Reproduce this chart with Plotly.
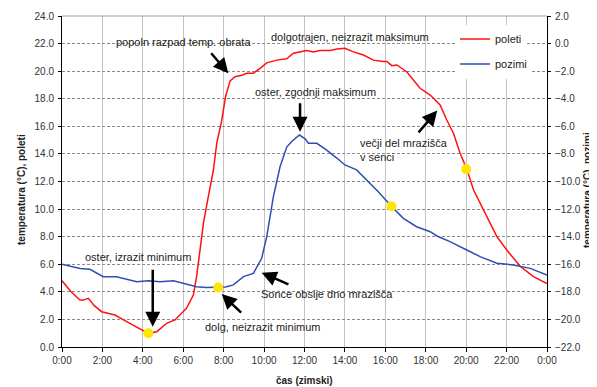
import plotly.graph_objects as go

# ---- data ----
hours_poleti = [0, 0.45, 0.89, 1.06, 1.3, 1.6, 1.96, 2.62, 3.2, 3.86, 4.27, 4.69, 5.18, 5.59, 6.16, 6.5,
                6.66, 6.83, 7.0, 7.24, 7.49, 7.66, 7.9, 8.1, 8.32, 8.56, 8.9, 9.14, 9.47, 9.8, 10.13,
                10.63, 11.12, 11.45, 11.78, 12.11, 12.44, 12.77, 13.27, 13.6, 14.0, 14.42, 14.92, 15.41,
                15.9, 16.07, 16.32, 16.57, 17.06, 17.39, 17.72, 18.22, 18.71, 19.04, 19.37, 19.7, 20.03,
                20.36, 20.86, 21.52, 22.01, 22.67, 23.33, 24.0]
temp_poleti = [4.8, 4.0, 3.41, 3.4, 3.53, 3.0, 2.56, 2.32, 1.84, 1.28, 0.99, 1.11, 1.72, 1.96, 2.8, 3.77,
               5.1, 7.03, 9.0, 10.9, 12.8, 14.8, 16.4, 18.2, 19.3, 19.6, 19.7, 19.85, 19.85, 20.2, 20.6,
               20.8, 20.9, 21.3, 21.4, 21.5, 21.4, 21.5, 21.5, 21.6, 21.66, 21.4, 21.17, 20.8,
               20.7, 20.7, 20.4, 20.45, 19.96, 19.36, 18.76, 18.27, 17.55, 16.46, 15.5, 14.05, 12.9,
               11.4, 9.93, 8.0, 7.03, 5.85, 5.1, 4.6]

hours_pozimi = [0, 0.89, 1.38, 2.04, 2.7, 3.2, 3.7, 4.27, 4.85, 5.51, 6.17, 6.66, 7.15, 7.73, 8.1, 8.48,
                8.98, 9.47, 9.88, 10.13, 10.46, 10.79, 11.12, 11.37, 11.75, 12.03, 12.2, 12.61, 13.1,
                13.6, 14.0, 14.58, 15.08, 15.65, 16.3, 16.89, 17.55, 18.22, 18.55, 19.2, 20.03, 20.69,
                21.52, 22.34, 23.17, 24.0]
temp_pozimi = [-16.0, -16.3, -16.37, -16.9, -16.9, -17.1, -17.26, -17.2, -17.26, -17.2, -17.43, -17.63,
               -17.68, -17.68, -17.65, -17.5, -16.9, -16.66, -15.57, -14.0, -11.1, -8.93, -7.5, -7.1,
               -6.63, -6.9, -7.23, -7.23, -7.72, -8.3, -8.8, -9.16, -9.9, -10.74, -11.8, -12.67,
               -13.28, -13.64, -13.95, -14.36, -14.97, -15.45, -15.93, -16.05, -16.3, -16.78]

marker_hours_poleti = [4.27, 20.0]
marker_temp_poleti = [1.0, 12.9]
marker_hours_pozimi = [7.73, 16.3]
marker_temp_pozimi = [-17.68, -11.8]

x_tickvals = list(range(0, 25, 2))
x_ticktext = ["0:00", "2:00", "4:00", "6:00", "8:00", "10:00", "12:00", "14:00",
              "16:00", "18:00", "20:00", "22:00", "0:00"]

FONT = "Liberation Sans, Arial, sans-serif"
RED = "#FF1010"
BLUE = "#2E4FB0"
YELLOW = "#FFE600"

fig = go.Figure()
fig.add_trace(go.Scatter(x=hours_poleti, y=temp_poleti, mode="lines", name="poleti",
                         line=dict(color=RED, width=1.5), legend="legend"))
fig.add_trace(go.Scatter(x=hours_pozimi, y=temp_pozimi, mode="lines", name="pozimi",
                         line=dict(color=BLUE, width=1.5), yaxis="y2", legend="legend2"))
fig.add_trace(go.Scatter(x=marker_hours_poleti, y=marker_temp_poleti, mode="markers",
                         marker=dict(color=YELLOW, size=10), showlegend=False))
fig.add_trace(go.Scatter(x=marker_hours_pozimi, y=marker_temp_pozimi, mode="markers",
                         marker=dict(color=YELLOW, size=10), yaxis="y2", showlegend=False))

# plot area in page pixels (page body has an 8px margin)
PL, PR, PT, PB = 62, 547, 16, 347


def px_x(p):
    return (p - PL) / (PR - PL)


def px_y(p):
    return (PB - p) / (PB - PT)


# annotations: (text, x, y) in data coords of left axis
texts = [
    ("popoln razpad temp. obrata", 5.99, 22.14),
    ("dolgotrajen, neizrazit maksimum", 14.25, 22.5),
    ("oster, zgodnji maksimum", 12.52, 18.51),
    ("oster, izrazit minimum", 3.78, 6.55),
    ("dolg, neizrazit minimum", 9.96, 1.43),
    ("Sonce obsije dno mrazišča", 13.1, 3.84),
]
annotations = []
for t, x, y in texts:
    annotations.append(dict(text=t, x=x, y=y, xref="x", yref="y", showarrow=False,
                            xanchor="center", yanchor="middle",
                            font=dict(family=FONT, size=11, color="#222222")))
annotations.append(dict(text="večji del mrazišča<br>v senci", x=14.66, y=14.31, xref="x", yref="y",
                        showarrow=False, xanchor="left", yanchor="middle", align="left",
                        font=dict(family=FONT, size=11, color="#222222")))
# axis titles
annotations.append(dict(text="<b>temperatura (°C), poleti</b>", x=px_x(21), y=px_y(190),
                        xref="paper", yref="paper", showarrow=False, textangle=-90,
                        xanchor="center", yanchor="middle",
                        font=dict(family=FONT, size=10, color="#222222")))
annotations.append(dict(text="<b>temperatura (°C), pozimi</b>", x=px_x(587), y=px_y(190),
                        xref="paper", yref="paper", showarrow=False, textangle=-90,
                        xanchor="center", yanchor="middle",
                        font=dict(family=FONT, size=10, color="#222222")))
annotations.append(dict(text="<b>čas (zimski)</b>", x=0.5, y=px_y(380),
                        xref="paper", yref="paper", showarrow=False,
                        xanchor="center", yanchor="middle",
                        font=dict(family=FONT, size=10, color="#222222")))

# arrows: head (x,y), tail (ax, ay)
arrows = [
    (8.23, 19.85, 7.32, 21.41),
    (11.78, 15.61, 11.78, 17.79),
    (18.57, 17.14, 17.58, 15.45),
    (4.49, 1.47, 4.49, 5.71),
    (7.9, 3.84, 8.94, 2.39),
    (9.88, 5.39, 11.28, 4.5),
]
for x, y, ax, ay in arrows:
    annotations.append(dict(text="", x=x, y=y, ax=ax, ay=ay, xref="x", yref="y",
                            axref="x", ayref="y", showarrow=True, arrowhead=2,
                            arrowsize=1.2, arrowwidth=2.5, arrowcolor="black", standoff=0,
                            startstandoff=0))

BODY = 8
W, H = 597 - BODY, 387 - BODY
fig.update_layout(
    width=W, height=H,
    margin=dict(l=PL - BODY, r=W + BODY - PR, t=PT - BODY, b=H + BODY - PB),
    paper_bgcolor="white", plot_bgcolor="white",
    font=dict(family=FONT, size=10, color="#222222"),
    annotations=annotations,
    xaxis=dict(range=[0, 24], tickvals=x_tickvals, ticktext=x_ticktext, automargin=False,
               showgrid=True, gridcolor="#c4c4c4", gridwidth=1,
               showline=True, linecolor="black", linewidth=1,
               ticks="outside", ticklen=4, tickcolor="black", zeroline=False,
               tickfont=dict(size=10, color="#333333")),
    yaxis=dict(range=[0, 24], dtick=2, tickformat=".1f", automargin=False,
               showgrid=True, gridcolor="#8a8a8a", gridwidth=1, griddash="3px,2px",
               showline=True, linecolor="black", linewidth=1,
               ticks="outside", ticklen=3, tickcolor="black", zeroline=False,
               ticklabelstandoff=2,
               tickfont=dict(size=10, color="#333333")),
    yaxis2=dict(range=[-22, 2], dtick=2, tickformat=".1f", overlaying="y", side="right",
                automargin=False,
                showgrid=False, showline=True, linecolor="black", linewidth=1,
                ticks="outside", ticklen=3, tickcolor="black", zeroline=False,
                ticklabelstandoff=2,
                tickfont=dict(size=10, color="#333333")),
    legend=dict(x=px_x(455), y=px_y(39), xanchor="left", yanchor="middle",
                bgcolor="white", borderwidth=0, font=dict(size=11, color="#222222")),
    legend2=dict(x=px_x(455), y=px_y(64), xanchor="left", yanchor="middle",
                 bgcolor="white", borderwidth=0, font=dict(size=11, color="#222222")),
    shapes=[dict(type="line", xref="paper", yref="paper", x0=0, x1=1, y0=1, y1=1,
                 line=dict(color="#a0a0a0", width=1))],
)

fig.write_html("out.html")
